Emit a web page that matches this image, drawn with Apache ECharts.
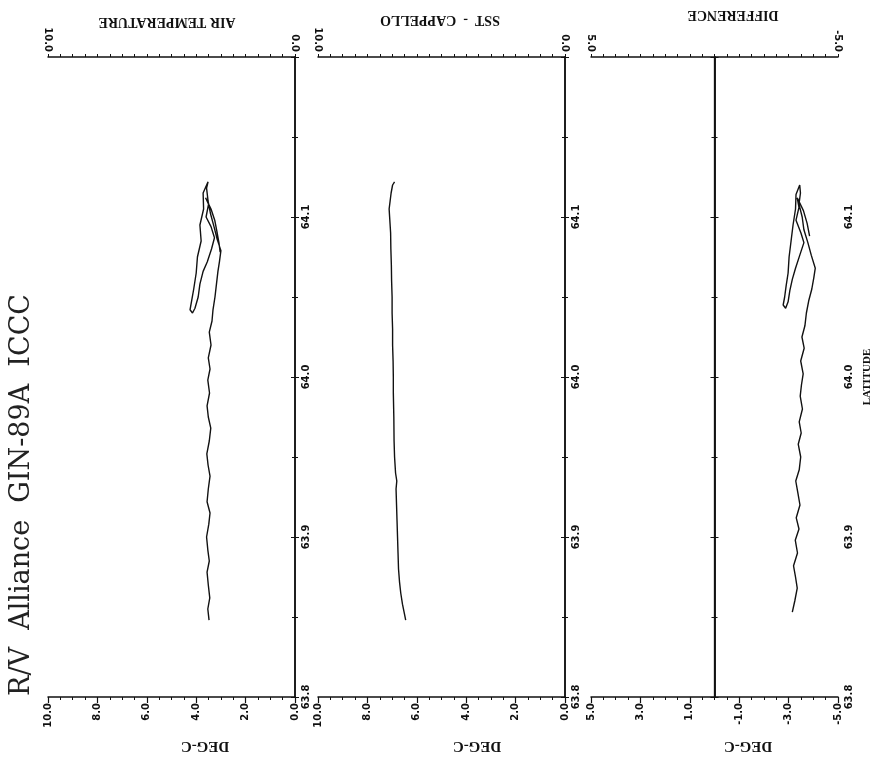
<!DOCTYPE html>
<html>
<head>
<meta charset="utf-8">
<script src="https://cdn.jsdelivr.net/npm/echarts@6/dist/echarts.min.js"></script>
<style>
  html, body { margin: 0; padding: 0; background: #fff; }
  #chart { width: 879px; height: 763px; }
</style>
</head>
<body>
<div id="chart"></div>
<script>
// air temperature trace (latitude, deg-C), in drawing order
var airLat = [63.848, 63.855, 63.862, 63.870, 63.878, 63.885, 63.892, 63.900, 63.908, 63.915,
  63.922, 63.930, 63.938, 63.945, 63.952, 63.960, 63.968, 63.975, 63.982, 63.990,
  63.998, 64.005, 64.012, 64.020, 64.028, 64.035, 64.042, 64.050, 64.058, 64.066,
  64.072, 64.079, 64.086, 64.094, 64.102, 64.110, 64.118, 64.122,
  64.115, 64.105, 64.095, 64.085, 64.075, 64.065, 64.055, 64.048, 64.042, 64.040,
  64.043, 64.050, 64.058, 64.066, 64.072, 64.080, 64.087, 64.094, 64.100, 64.108,
  64.112, 64.105, 64.098, 64.090, 64.084, 64.078];
var airVal = [3.48, 3.53, 3.45, 3.51, 3.56, 3.47, 3.53, 3.58, 3.49, 3.44,
  3.56, 3.51, 3.44, 3.52, 3.57, 3.47, 3.41, 3.51, 3.56, 3.46,
  3.53, 3.44, 3.51, 3.40, 3.47, 3.36, 3.32, 3.24, 3.18, 3.12,
  3.06, 3.00, 3.15, 3.28, 3.42, 3.52, 3.58, 3.52,
  3.72, 3.70, 3.85, 3.80, 3.95, 4.00, 4.10, 4.18, 4.25, 4.15,
  4.05, 3.92, 3.85, 3.72, 3.55, 3.38, 3.26, 3.40, 3.60, 3.50,
  3.62, 3.40, 3.25, 3.15, 3.08, 3.03];

// sea surface temperature trace
var sstLat = [63.848, 63.852, 63.858, 63.865, 63.872, 63.880, 63.890, 63.900, 63.910, 63.920,
  63.930, 63.935, 63.940, 63.950, 63.960, 63.975, 63.990, 64.000, 64.010, 64.020,
  64.030, 64.040, 64.050, 64.060, 64.070, 64.080, 64.090, 64.100, 64.105, 64.110,
  64.115, 64.120, 64.122];
var sstVal = [6.45, 6.50, 6.58, 6.65, 6.70, 6.74, 6.76, 6.78, 6.80, 6.82,
  6.84, 6.81, 6.86, 6.90, 6.92, 6.93, 6.95, 6.95, 6.96, 6.98,
  6.98, 7.00, 7.00, 7.02, 7.03, 7.05, 7.06, 7.10, 7.12, 7.08,
  7.04, 6.98, 6.90];

// difference trace
var difLat = [63.853, 63.860, 63.868, 63.875, 63.882, 63.890, 63.898, 63.905, 63.912, 63.920,
  63.928, 63.935, 63.942, 63.950, 63.958, 63.965, 63.972, 63.980, 63.988, 63.995,
  64.002, 64.010, 64.018, 64.025, 64.032, 64.040, 64.048, 64.055, 64.062, 64.068,
  64.076, 64.084, 64.092, 64.100, 64.108, 64.115, 64.120,
  64.114, 64.105, 64.095, 64.085, 64.075, 64.065, 64.057, 64.050, 64.045, 64.043,
  64.047, 64.054, 64.061, 64.068, 64.076, 64.084, 64.090, 64.098, 64.106, 64.112,
  64.104, 64.096, 64.088];
var difVal = [-3.15, -3.25, -3.35, -3.28, -3.20, -3.36, -3.27, -3.42, -3.31, -3.46,
  -3.37, -3.29, -3.43, -3.49, -3.39, -3.51, -3.43, -3.56, -3.47, -3.52,
  -3.59, -3.49, -3.63, -3.54, -3.66, -3.72, -3.82, -3.94, -4.02, -4.08,
  -3.92, -3.78, -3.62, -3.55, -3.42, -3.48, -3.45,
  -3.30, -3.28, -3.18, -3.10, -3.02, -2.98, -2.90, -2.84, -2.78, -2.88,
  -2.98, -3.05, -3.15, -3.28, -3.45, -3.62, -3.50, -3.30, -3.42, -3.35,
  -3.60, -3.75, -3.85];

var latTicks = ['63.8', '63.9', '64.0', '64.1'];
var panelTitles = ['AIR TEMPERATURE', 'SST  -  CAPPELLO', 'DIFFERENCE'];
var xRanges = [[0, 10], [0, 10], [-5, 5]];

function pairs(lat, val) {
  var out = [];
  for (var i = 0; i < lat.length; i++) out.push([val[i], lat[i]]);
  return out;
}

var chart = echarts.init(document.getElementById('chart'), null, { renderer: 'canvas' });

var lefts = [48, 318, 591];
var grids = [], xAxes = [], yAxes = [], series = [];
var black = '#111';
var lbl = { color: black, fontSize: 10, fontWeight: 'bold', fontFamily: 'DejaVu Sans' };

lefts.forEach(function (l, i) {
  grids.push({ left: l, top: 57, width: 247, height: 640 });
  var mn = xRanges[i][0], mx = xRanges[i][1];
  // bottom axis
  xAxes.push({
    gridIndex: i, type: 'value', position: 'bottom', inverse: true,
    min: mn, max: mx, interval: 2,
    axisLine: { lineStyle: { color: black, width: 1.5 } },
    axisTick: { length: 6, lineStyle: { color: black, width: 1.2 } },
    minorTick: { show: true, splitNumber: 4, length: 3, lineStyle: { color: black } },
    splitLine: { show: false },
    axisLabel: Object.assign({ rotate: 90, margin: 6, formatter: function (v) { return v.toFixed(1); } }, lbl)
  });
  // top axis
  xAxes.push({
    gridIndex: i, type: 'value', position: 'top', inverse: true,
    min: mn, max: mx, interval: 0.5,
    axisLine: { lineStyle: { color: black, width: 1.5 } },
    axisTick: { length: 3, lineStyle: { color: black } },
    splitLine: { show: false },
    axisLabel: Object.assign({ rotate: 90, margin: 5, formatter: function (v) {
      return (v === mn || v === mx) ? v.toFixed(1) : '';
    } }, lbl)
  });
  // latitude, right side with labels
  yAxes.push({
    gridIndex: i, type: 'value', position: 'right', min: 63.8, max: 64.2, interval: 0.1,
    axisLine: { show: true, lineStyle: { color: black, width: 1.5 } },
    axisTick: { show: true, inside: true, length: 4, lineStyle: { color: black } },
    minorTick: { show: true, splitNumber: 2, length: 3, lineStyle: { color: black } },
    splitLine: { show: false },
    axisLabel: Object.assign({ rotate: 90, margin: 6, formatter: function (v) {
      var s = v.toFixed(1);
      return latTicks.indexOf(s) >= 0 ? s : '';
    } }, lbl)
  });
  // latitude, left side, ticks only
  yAxes.push({
    gridIndex: i, type: 'value', position: 'left', min: 63.8, max: 64.2, interval: 0.1,
    axisLine: { show: true, lineStyle: { color: black, width: 1.5 } },
    axisTick: { show: true, inside: true, length: 4, lineStyle: { color: black } },
    minorTick: { show: true, splitNumber: 2, length: 3, lineStyle: { color: black } },
    splitLine: { show: false },
    axisLabel: { show: false }
  });
});

var traces = [pairs(airLat, airVal), pairs(sstLat, sstVal), pairs(difLat, difVal)];
traces.forEach(function (d, i) {
  var s = {
    type: 'line', xAxisIndex: i * 2, yAxisIndex: i * 2, data: d,
    showSymbol: false, symbol: 'none', smooth: false, animation: false,
    lineStyle: { color: black, width: 1.4 }
  };
  if (i === 2) {
    s.markLine = {
      silent: true, symbol: 'none', label: { show: false },
      lineStyle: { color: black, type: 'solid', width: 1.3 },
      data: [{ xAxis: 0 }]
    };
  }
  series.push(s);
});

var titleX = [167, 440, 733], titleY = [22, 20, 15];
var degX = [205, 477, 748];
var graphics = [{
  type: 'text', x: 22, y: 495, rotation: Math.PI / 2,
  style: { text: 'R/V  Alliance  GIN-89A  ICCC', font: '27px "DejaVu Serif"', fill: '#222',
    align: 'center', verticalAlign: 'middle' }
}, {
  type: 'text', x: 867, y: 377, rotation: Math.PI / 2,
  style: { text: 'LATITUDE', font: 'bold 11px "Liberation Serif"', fill: black,
    align: 'center', verticalAlign: 'middle' }
}];
panelTitles.forEach(function (t, i) {
  graphics.push({
    type: 'text', x: titleX[i], y: titleY[i], rotation: Math.PI,
    style: { text: t, font: 'bold 14px "Liberation Serif"', fill: black,
      align: 'center', verticalAlign: 'middle' }
  });
  graphics.push({
    type: 'text', x: degX[i], y: 746, rotation: Math.PI,
    style: { text: 'DEG-C', font: 'bold 15px "Liberation Serif"', fill: black,
      align: 'center', verticalAlign: 'middle' }
  });
});

chart.setOption({
  backgroundColor: '#fff',
  animation: false,
  grid: grids,
  xAxis: xAxes,
  yAxis: yAxes,
  series: series,
  graphic: graphics
});
</script>
</body>
</html>
